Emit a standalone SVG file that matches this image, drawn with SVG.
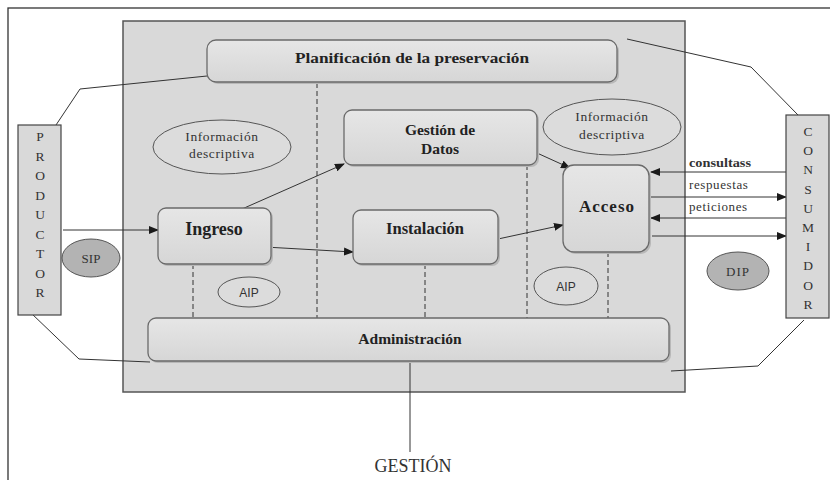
<svg xmlns="http://www.w3.org/2000/svg" width="830" height="480" viewBox="0 0 830 480">
<defs>
<marker id="ah" markerWidth="10" markerHeight="8" refX="9" refY="4" orient="auto" markerUnits="userSpaceOnUse">
<path d="M0,0 L10,4 L0,8 Z" fill="#1a1a1a"/>
</marker>
<linearGradient id="bg" x1="0" y1="0" x2="0" y2="1">
<stop offset="0" stop-color="#e6e6e6"/>
<stop offset="1" stop-color="#d6d6d6"/>
</linearGradient>
</defs>
<style>
.box{fill:url(#bg);stroke:#6a6a6a;stroke-width:1.3}
.shd{fill:#b8b8b8;stroke:none}
.ell{fill:#dcdcdc;stroke:#555;stroke-width:1}
.dark{fill:#b3b3b3;stroke:#555;stroke-width:1}
.side{fill:#d9d9d9;stroke:#444;stroke-width:1.2}
.b{font-family:"Liberation Serif","Times New Roman",serif;font-weight:bold;fill:#222;text-anchor:middle}
.r{font-family:"Liberation Serif","Times New Roman",serif;fill:#333;text-anchor:middle}
.s{font-family:"Liberation Sans",Arial,sans-serif;fill:#333;text-anchor:middle}
.l{font-family:"Liberation Serif","Times New Roman",serif;fill:#333}
.ln{fill:none;stroke:#333;stroke-width:1}
.dash{fill:none;stroke:#333;stroke-width:1;stroke-dasharray:5,3}
.arr{fill:none;stroke:#333;stroke-width:1;marker-end:url(#ah)}
</style>
<rect width="830" height="480" fill="#fff"/>
<rect x="8" y="8" width="840" height="490" fill="none" stroke="#333" stroke-width="1.3"/>
<rect id="repositorio" x="123" y="21" width="562" height="371" fill="#d9d9d9" stroke="#555" stroke-width="1.5"/>

<g id="connectors">
<polyline class="ln" points="207,76 80,89 56,125"/>
<polyline class="ln" points="627,39 751,67 798,115"/>
<polyline class="ln" points="31,313 79,359 150,362"/>
<polyline class="ln" points="804,320 758,366 671,371"/>
<line class="dash" x1="317" y1="83" x2="317" y2="318"/>
<line class="dash" x1="527" y1="165" x2="527" y2="318"/>
<line class="dash" x1="193" y1="264" x2="193" y2="318"/>
<line class="dash" x1="425" y1="264" x2="425" y2="318"/>
<line class="dash" x1="608" y1="252" x2="608" y2="318"/>
<line class="ln" x1="410" y1="360" x2="410" y2="452"/>
<line class="arr" x1="63" y1="230" x2="158" y2="230"/>
<line class="arr" x1="242" y1="209" x2="344" y2="164"/>
<line class="arr" x1="247" y1="246" x2="353" y2="252"/>
<line class="arr" x1="537" y1="153" x2="570" y2="168"/>
<line class="arr" x1="498" y1="239" x2="563" y2="225"/>
<line class="arr" x1="786" y1="172" x2="651" y2="172"/>
<line class="arr" x1="650" y1="197" x2="786" y2="197"/>
<line class="arr" x1="786" y1="218" x2="651" y2="218"/>
<line class="arr" x1="652" y1="236" x2="786" y2="236" stroke-width="2"/>
</g>

<g id="planificacion">
<rect class="shd" x="209" y="42" width="410" height="42" rx="9"/>
<rect class="box" x="207" y="40" width="410" height="42" rx="9"/>
<text class="b" x="412" y="63" font-size="15.5" textLength="234" lengthAdjust="spacingAndGlyphs">Planificación de la preservación</text>
</g>

<g id="productor">
<rect class="side" x="18" y="125" width="43" height="190"/>
<text class="r" font-size="13.5">
<tspan x="40" y="141">P</tspan><tspan x="40" y="161">R</tspan><tspan x="40" y="180">O</tspan><tspan x="40" y="200">D</tspan><tspan x="40" y="219">U</tspan><tspan x="40" y="239">C</tspan><tspan x="40" y="258">T</tspan><tspan x="40" y="278">O</tspan><tspan x="40" y="297">R</tspan>
</text>
</g>

<g id="consumidor">
<rect class="side" x="786" y="115" width="43" height="203"/>
<text class="r" font-size="13.5">
<tspan x="808" y="136">C</tspan><tspan x="808" y="155">O</tspan><tspan x="808" y="174">N</tspan><tspan x="808" y="194">S</tspan><tspan x="808" y="213">U</tspan><tspan x="808" y="232">M</tspan><tspan x="808" y="251">I</tspan><tspan x="808" y="270">D</tspan><tspan x="808" y="290">O</tspan><tspan x="808" y="309">R</tspan>
</text>
</g>

<g id="info-izq">
<ellipse class="ell" cx="222" cy="147" rx="69" ry="27"/>
<text class="r" font-size="13.5" letter-spacing="0.6" x="222" y="141">Información</text>
<text class="r" font-size="13.5" letter-spacing="0.6" x="222" y="158">descriptiva</text>
</g>

<g id="info-der">
<ellipse class="ell" cx="612" cy="127" rx="69" ry="28"/>
<text class="r" font-size="13.5" letter-spacing="0.6" x="612" y="121">Información</text>
<text class="r" font-size="13.5" letter-spacing="0.6" x="612" y="139">descriptiva</text>
</g>

<g id="gestion-datos">
<rect class="shd" x="346" y="112" width="193" height="55" rx="8"/>
<rect class="box" x="344" y="110" width="193" height="55" rx="8"/>
<text class="b" font-size="15.5" x="440" y="135">Gestión de</text>
<text class="b" font-size="15.5" x="440" y="154">Datos</text>
</g>

<g id="ingreso">
<rect class="shd" x="160" y="210" width="113" height="56" rx="8"/>
<rect class="box" x="158" y="208" width="113" height="56" rx="8"/>
<text class="b" font-size="18" x="214" y="235">Ingreso</text>
</g>

<g id="instalacion">
<rect class="shd" x="355" y="212" width="145" height="54" rx="8"/>
<rect class="box" x="353" y="210" width="145" height="54" rx="8"/>
<text class="b" font-size="16.5" x="425" y="234">Instalación</text>
</g>

<g id="acceso">
<rect class="shd" x="565" y="167" width="86" height="87" rx="11"/>
<rect class="box" x="563" y="165" width="86" height="87" rx="11"/>
<text class="b" font-size="17" letter-spacing="1" x="607" y="212">Acceso</text>
</g>

<g id="administracion">
<rect class="shd" x="150" y="320" width="521" height="43" rx="8"/>
<rect class="box" x="148" y="318" width="521" height="43" rx="8"/>
<text class="b" font-size="15.5" x="410" y="344">Administración</text>
</g>

<g id="sip">
<ellipse class="dark" cx="91" cy="258" rx="29" ry="19"/>
<text class="r" font-size="13" x="91" y="263">SIP</text>
</g>

<g id="aip1">
<ellipse class="ell" cx="249" cy="292" rx="31" ry="15"/>
<text class="s" font-size="12" x="249" y="297">AIP</text>
</g>

<g id="aip2">
<ellipse class="ell" cx="566" cy="286" rx="32" ry="19"/>
<text class="s" font-size="12" x="566" y="291">AIP</text>
</g>

<g id="dip">
<ellipse class="dark" cx="738" cy="271" rx="31" ry="19"/>
<text class="r" font-size="13" letter-spacing="1" x="738" y="276">DIP</text>
</g>

<g id="labels">
<text class="l" font-size="13" font-weight="bold" x="689" y="167" textLength="62" lengthAdjust="spacingAndGlyphs">consultass</text>
<text class="l" font-size="13" x="689" y="189" letter-spacing="0.6">respuestas</text>
<text class="l" font-size="13" x="689" y="211" letter-spacing="0.6">peticiones</text>
</g>

<g id="gestion">
<text class="r" font-size="18" fill="#222" x="413" y="472">GESTIÓN</text>
</g>
</svg>
